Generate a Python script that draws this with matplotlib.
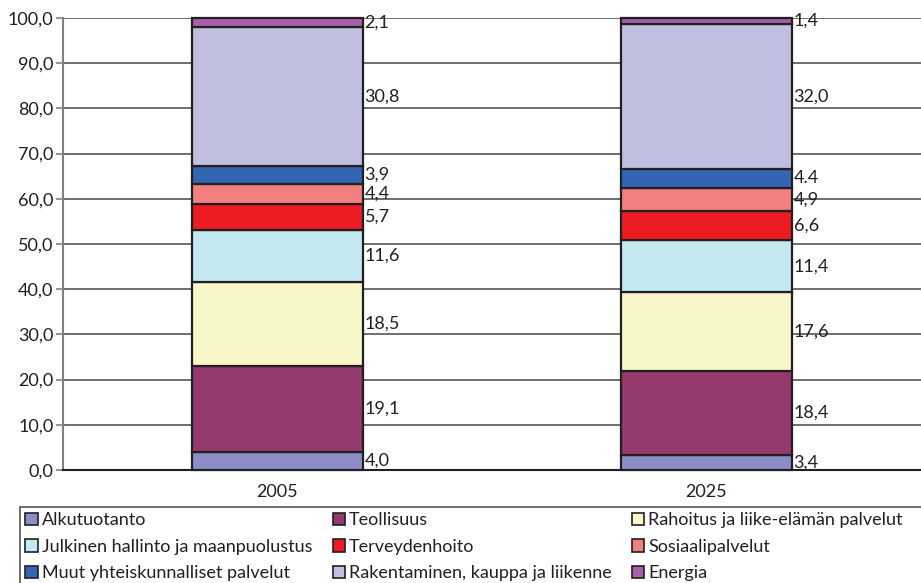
import matplotlib
matplotlib.use("Agg")
import matplotlib.pyplot as plt
from matplotlib.patches import Patch, Rectangle
import numpy as np

plt.rcParams['font.family'] = ['Lato', 'DejaVu Sans']

years = ["2005", "2025"]
sectors = ["Alkutuotanto", "Teollisuus", "Rahoitus ja liike-elämän palvelut",
           "Julkinen hallinto ja maanpuolustus", "Terveydenhoito", "Sosiaalipalvelut",
           "Muut yhteiskunnalliset palvelut", "Rakentaminen, kauppa ja liikenne", "Energia"]
values_2005 = [4.0, 19.1, 18.5, 11.6, 5.7, 4.4, 3.9, 30.8, 2.1]
values_2025 = [3.4, 18.4, 17.6, 11.4, 6.6, 4.9, 4.4, 32.0, 1.4]
labels_2005 = ["4,0", "19,1", "18,5", "11,6", "5,7", "4,4", "3,9", "30,8", "2,1"]
labels_2025 = ["3,4", "18,4", "17,6", "11,4", "6,6", "4,9", "4.4", "32,0", "1,4"]
colors = ["#8B8DC6", "#943A6C", "#F9F7CA", "#C3E8EF", "#ED1C24", "#F38081",
          "#3366B2", "#C0BFE0", "#A85FA8"]

W, H = 921, 583
fig = plt.figure(figsize=(W / 100, H / 100), dpi=100)
ax = fig.add_axes([63 / W, 1 - 470 / H, (W - 63) / W, (470 - 18) / H])

x = np.arange(len(years))
width = 0.4
data = np.array([values_2005, values_2025])
labels = [labels_2005, labels_2025]
bottoms = np.zeros(len(years))
fs = 13
for i, sec in enumerate(sectors):
    vals = data[:, i]
    ax.bar(x, vals, width, bottom=bottoms, color=colors[i], edgecolor="#231F20",
           linewidth=1.6, zorder=3, clip_on=False)
    for j in range(len(years)):
        ax.text(x[j] + width / 2 + 0.003, bottoms[j] + vals[j] / 2, labels[j][i],
                ha="left", va="center", fontsize=fs, color="#231F20", zorder=4)
    bottoms += vals

ax.set_xlim(-0.5, 1.5)
ax.set_ylim(0, 100)
ax.set_yticks(np.arange(0, 101, 10))
ax.set_yticklabels([f"{v:.1f}".replace(".", ",") for v in np.arange(0, 101, 10)])
ax.set_xticks(x)
ax.set_xticklabels(years)
ax.tick_params(axis="y", length=5, width=1.2, color="#808080", pad=2, labelsize=fs,
               labelcolor="#231F20")
ax.tick_params(axis="x", length=0, pad=10, labelsize=fs, labelcolor="#231F20")
ax.grid(axis="y", color="#555555", linewidth=1.2, zorder=0)
ax.set_axisbelow(True)
for s in ["top", "right"]:
    ax.spines[s].set_visible(False)
ax.spines["left"].set_color("#808080")
ax.spines["left"].set_linewidth(1.5)
ax.spines["bottom"].set_color("#231F20")
ax.spines["bottom"].set_linewidth(1.5)

# legend frame extending past the figure's right and bottom edges
fig.patches.append(Rectangle((20 / W, -0.05), 1.0, 1 - 507 / H + 0.05,
                             transform=fig.transFigure, facecolor="white",
                             edgecolor="#555555", linewidth=1.2, zorder=0))

# legend: rows as in reference (3 columns, filled column-wise)
order = [0, 3, 6, 1, 4, 7, 2, 5, 8]
handles = [Patch(facecolor=colors[k], edgecolor="#231F20", linewidth=1.2) for k in order]
leg_labels = [sectors[k] for k in order]
leg = fig.legend(handles, leg_labels, ncol=3, loc="upper left",
                 bbox_to_anchor=(20 / W, 1 - 507 / H, 888 / W, 0.0), mode="expand",
                 fontsize=fs, frameon=False, borderaxespad=0,
                 handlelength=0.7, handleheight=0.7, handletextpad=0.2,
                 labelspacing=0.58, borderpad=0.3, columnspacing=1.0)
for t in leg.get_texts():
    t.set_color("#231F20")

fig.savefig("out.png", dpi=100)
